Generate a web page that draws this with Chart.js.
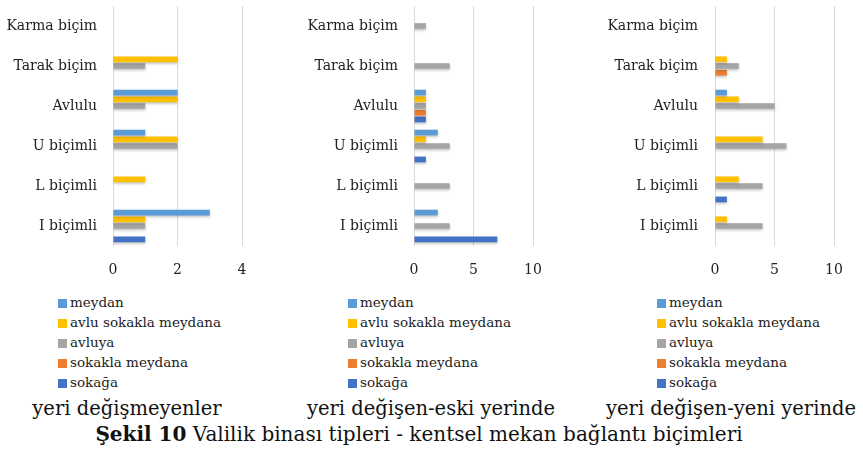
<!DOCTYPE html>
<html>
<head>
<meta charset="utf-8">
<script src="https://cdn.jsdelivr.net/npm/chart.js@4.4.1/dist/chart.umd.min.js"></script>
<style>
  html, body { margin: 0; padding: 0; background: #fff; }
  body { width: 863px; height: 456px; position: relative; overflow: hidden; font-family: "DejaVu Serif", serif; }
  .panel { position: absolute; top: 0; height: 280px; }
  .legend { position: absolute; top: 292px; font-size: 13.5px; color: #222; }
  .legend div { height: 20px; line-height: 20px; white-space: nowrap; }
  .legend span { display: inline-block; width: 9px; height: 9px; margin-right: 3px; vertical-align: -0.5px; }
  .title { position: absolute; top: 397px; font-size: 19.5px; color: #111; white-space: nowrap; transform: translateX(-50%); }
  .caption { position: absolute; top: 422px; left: 419px; transform: translateX(-50%); font-size: 20px; color: #111; white-space: nowrap; }
</style>
</head>
<body>
<div class="panel" style="left:0;width:290px"><canvas id="c1"></canvas></div>
<div class="panel" style="left:290px;width:280px"><canvas id="c2"></canvas></div>
<div class="panel" style="left:570px;width:293px"><canvas id="c3"></canvas></div>
<div class="legend" id="l1" style="left:58px"></div>
<div class="legend" id="l2" style="left:348px"></div>
<div class="legend" id="l3" style="left:657px"></div>
<div class="title" style="left:127px">yeri değişmeyenler</div>
<div class="title" style="left:431px">yeri değişen-eski yerinde</div>
<div class="title" style="left:731px">yeri değişen-yeni yerinde</div>
<div class="caption"><b>Şekil 10</b> Valilik binası tipleri - kentsel mekan bağlantı biçimleri</div>
<script>
// kategoriler (yukaridan asagiya)
const categories = ['Karma biçim', 'Tarak biçim', 'Avlulu', 'U biçimli', 'L biçimli', 'I biçimli'];
const seriesNames = ['meydan', 'avlu sokakla meydana', 'avluya', 'sokakla meydana', 'sokağa'];
const seriesColors = ['#5B9BD5', '#FFC000', '#A5A5A5', '#ED7D31', '#4472C4'];

// yeri değişmeyenler
const p1Meydan = [0, 0, 2, 1, 0, 3];
const p1AvluSokakla = [0, 2, 2, 2, 1, 1];
const p1Avluya = [0, 1, 1, 2, 0, 1];
const p1SokaklaMeydana = [0, 0, 0, 0, 0, 0];
const p1Sokaga = [0, 0, 0, 0, 0, 1];

// yeri değişen-eski yerinde
const p2Meydan = [0, 0, 1, 2, 0, 2];
const p2AvluSokakla = [0, 0, 1, 1, 0, 0];
const p2Avluya = [1, 3, 1, 3, 3, 3];
const p2SokaklaMeydana = [0, 0, 1, 0, 0, 0];
const p2Sokaga = [0, 0, 1, 1, 0, 7];

// yeri değişen-yeni yerinde
const p3Meydan = [0, 0, 1, 0, 0, 0];
const p3AvluSokakla = [0, 1, 2, 4, 2, 1];
const p3Avluya = [0, 2, 5, 6, 4, 4];
const p3SokaklaMeydana = [0, 1, 0, 0, 0, 0];
const p3Sokaga = [0, 0, 0, 0, 1, 0];

const p1Ticks = [0, 2, 4];
const p2Ticks = [0, 5, 10];
const p3Ticks = [0, 5, 10];

// Excel tarzi hafif golge
const shadowPlugin = {
    id: 'barShadow',
    beforeDatasetsDraw(chart) {
        const ctx = chart.ctx;
        ctx.save();
        ctx.shadowColor = 'rgba(0,0,0,0.25)';
        ctx.shadowBlur = 3;
        ctx.shadowOffsetY = 1.5;
    },
    afterDatasetsDraw(chart) {
        chart.ctx.restore();
    }
};

function makeChart(id, series, ticks, labelRight, plotLeft, rightPad) {
    const ctx = document.getElementById(id).getContext('2d');
    const maxVal = ticks[ticks.length - 1];
    return new Chart(ctx, {
        type: 'bar',
        data: {
            labels: categories,
            datasets: series.map((data, i) => ({
                label: seriesNames[i],
                data: data,
                backgroundColor: seriesColors[i],
                barPercentage: 0.85,
                categoryPercentage: 0.84
            }))
        },
        options: {
            indexAxis: 'y',
            responsive: true,
            maintainAspectRatio: false,
            animation: false,
            layout: { padding: { top: 6, right: rightPad, left: 0, bottom: 0 } },
            scales: {
                x: {
                    min: 0,
                    max: maxVal,
                    afterBuildTicks: (axis) => { axis.ticks = ticks.map(v => ({ value: v })); },
                    afterFit: (axis) => { axis.height = 34; },
                    grid: { color: '#d9d9d9', drawTicks: false },
                    border: { display: false },
                    ticks: {
                        padding: 16,
                        color: '#222',
                        font: { family: 'DejaVu Serif', size: 14 }
                    }
                },
                y: {
                    afterFit: (axis) => { axis.width = plotLeft; },
                    // tick cizgisi gorunmez, sadece etiketleri iceri itmek icin
                    grid: { drawOnChartArea: false, drawTicks: true, tickLength: plotLeft - labelRight, tickColor: 'rgba(0,0,0,0)' },
                    border: { display: false },
                    ticks: {
                        padding: 0,
                        color: '#222',
                        font: { family: 'DejaVu Serif', size: 14, lineHeight: 0.1 }
                    }
                }
            },
            plugins: {
                legend: { display: false },
                tooltip: { enabled: false }
            }
        },
        plugins: [shadowPlugin]
    });
}

function makeLegend(id) {
    const el = document.getElementById(id);
    seriesNames.forEach((name, i) => {
        const row = document.createElement('div');
        const box = document.createElement('span');
        box.style.background = seriesColors[i];
        row.appendChild(box);
        row.appendChild(document.createTextNode(name));
        el.appendChild(row);
    });
}

window.onload = function() {
    makeChart('c1', [p1Meydan, p1AvluSokakla, p1Avluya, p1SokaklaMeydana, p1Sokaga], p1Ticks, 97, 113, 48);
    makeChart('c2', [p2Meydan, p2AvluSokakla, p2Avluya, p2SokaklaMeydana, p2Sokaga], p2Ticks, 108, 124, 37);
    makeChart('c3', [p3Meydan, p3AvluSokakla, p3Avluya, p3SokaklaMeydana, p3Sokaga], p3Ticks, 128, 145, 29);
    makeLegend('l1');
    makeLegend('l2');
    makeLegend('l3');
};
</script>
</body>
</html>
